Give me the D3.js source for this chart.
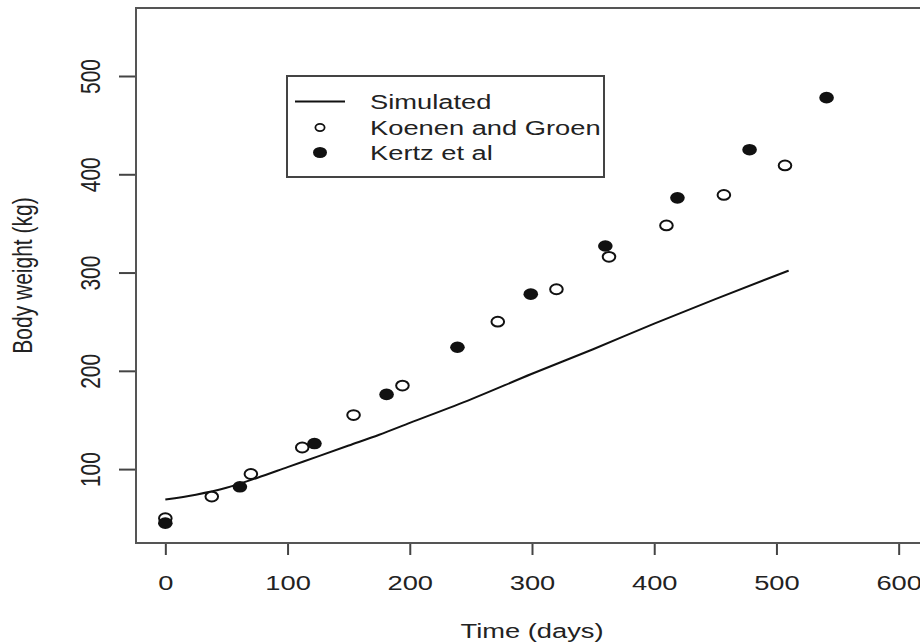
<!DOCTYPE html>
<html>
<head>
<meta charset="utf-8">
<script src="https://cdn.jsdelivr.net/npm/d3@7"></script>
<style>
  body { margin: 0; background: #fff; }
  text { font-family: "Liberation Sans", Arial, sans-serif; fill: #222; }
</style>
</head>
<body>
<div id="chart"></div>
<script>
// body weight over time
const simulated = [
  [0, 69], [25, 74], [50, 81], [75, 91], [100, 102], [125, 113], [150, 124],
  [175, 135], [200, 147], [250, 171], [300, 197], [350, 222], [400, 248],
  [450, 273], [510, 302]
];
const koenenGroen = [
  [0, 50], [38, 72], [70, 95], [112, 122], [154, 155], [194, 185],
  [272, 250], [320, 283], [363, 316], [410, 348], [457, 379], [507, 409]
];
const kertz = [
  [0, 45], [61, 82], [122, 126], [181, 176], [239, 224], [299, 278],
  [360, 327], [419, 376], [478, 425], [541, 478]
];
const xTicks = [0, 100, 200, 300, 400, 500, 600];
const yTicks = [100, 200, 300, 400, 500];
const legendLabels = ["Simulated", "Koenen and Groen", "Kertz et al"];

// R style limits (4% padding round xlim 0-600, ylim 45-549)
const xDomain = [-24, 624];
const yDomain = [24.8, 569.2];

const W = 920, H = 644;
const box = { left: 136, top: 8, right: 928, bottom: 543 };
const stretch = 1.3;   // the picture is wider than it is tall

const svg = d3.select("#chart").append("svg")
    .attr("width", W)
    .attr("height", H);

const x = d3.scaleLinear().domain(xDomain).range([box.left, box.right]);
const y = d3.scaleLinear().domain(yDomain).range([box.bottom, box.top]);

// x axis
const xAxis = svg.append("g")
    .attr("transform", `translate(0,${box.bottom})`)
    .call(d3.axisBottom(x).tickValues(xTicks).tickSize(12).tickPadding(20));
xAxis.select(".domain").remove();
xAxis.selectAll("line").attr("stroke", "#444").attr("stroke-width", 2);
xAxis.selectAll("text")
    .attr("font-size", 21)
    .attr("font-family", "Liberation Sans, Arial, sans-serif")
    .attr("fill", "#222")
    .attr("transform", `scale(${stretch},1)`);

// y axis, labels turned like R's las=0
const yAxis = svg.append("g")
    .attr("transform", `translate(${box.left},0)`)
    .call(d3.axisLeft(y).tickValues(yTicks).tickSize(17));
yAxis.select(".domain").remove();
yAxis.selectAll("line").attr("stroke", "#444").attr("stroke-width", 2);
yAxis.selectAll("text")
    .attr("x", 0)
    .attr("dy", null)
    .attr("text-anchor", "middle")
    .attr("font-size", 21)
    .attr("font-family", "Liberation Sans, Arial, sans-serif")
    .attr("fill", "#222")
    .attr("transform", `translate(-36,0) scale(${stretch},1) rotate(-90)`);

// plot box
svg.append("rect")
    .attr("x", box.left)
    .attr("y", box.top)
    .attr("width", box.right - box.left)
    .attr("height", box.bottom - box.top)
    .attr("fill", "none")
    .attr("stroke", "#555")
    .attr("stroke-width", 2);

// axis titles
svg.append("text")
    .attr("transform", `translate(${(box.left + box.right) / 2},638) scale(${stretch},1)`)
    .attr("text-anchor", "middle")
    .attr("font-size", 21)
    .text("Time (days)");

svg.append("text")
    .attr("transform", `translate(32,${(box.top + box.bottom) / 2}) scale(${stretch},1) rotate(-90)`)
    .attr("text-anchor", "middle")
    .attr("font-size", 21)
    .text("Body weight (kg)");

// simulated curve
const line = d3.line()
    .x(d => x(d[0]))
    .y(d => y(d[1]))
    .curve(d3.curveMonotoneX);

svg.append("path")
    .datum(simulated)
    .attr("d", line)
    .attr("fill", "none")
    .attr("stroke", "#111")
    .attr("stroke-width", 2);

// observed points
svg.append("g").selectAll("ellipse")
    .data(koenenGroen)
    .enter()
    .append("ellipse")
    .attr("cx", d => x(d[0]))
    .attr("cy", d => y(d[1]))
    .attr("rx", 6.3)
    .attr("ry", 4.9)
    .attr("fill", "#fff")
    .attr("stroke", "#111")
    .attr("stroke-width", 2);

svg.append("g").selectAll("ellipse")
    .data(kertz)
    .enter()
    .append("ellipse")
    .attr("cx", d => x(d[0]))
    .attr("cy", d => y(d[1]))
    .attr("rx", 7.3)
    .attr("ry", 5.8)
    .attr("fill", "#111");

// legend
const legend = svg.append("g");
legend.append("rect")
    .attr("x", 287)
    .attr("y", 76)
    .attr("width", 317)
    .attr("height", 101)
    .attr("fill", "#fff")
    .attr("stroke", "#444")
    .attr("stroke-width", 2);

const rowY = [101.5, 127.5, 152.5];

legend.append("line")
    .attr("x1", 295).attr("x2", 345)
    .attr("y1", rowY[0]).attr("y2", rowY[0])
    .attr("stroke", "#111")
    .attr("stroke-width", 2);

legend.append("ellipse")
    .attr("cx", 320).attr("cy", rowY[1])
    .attr("rx", 4.6).attr("ry", 3.6)
    .attr("fill", "#fff")
    .attr("stroke", "#111")
    .attr("stroke-width", 1.8);

legend.append("ellipse")
    .attr("cx", 320).attr("cy", rowY[2])
    .attr("rx", 7).attr("ry", 5.6)
    .attr("fill", "#111");

legend.selectAll("text.lab")
    .data(legendLabels)
    .enter()
    .append("text")
    .attr("class", "lab")
    .attr("transform", (d, i) => `translate(370,${rowY[i] + 7.5}) scale(${stretch},1)`)
    .attr("font-size", 21)
    .text(d => d);
</script>
</body>
</html>
